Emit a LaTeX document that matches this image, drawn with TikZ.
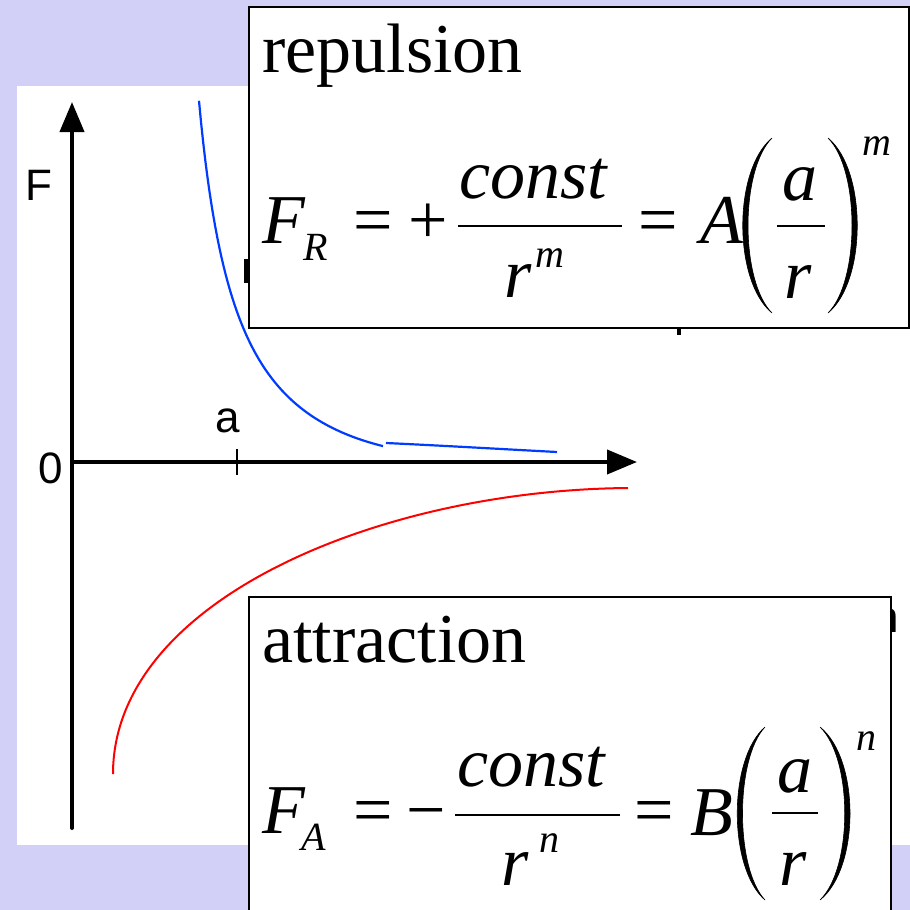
\documentclass[tikz,border=0pt]{standalone}
\usepackage{fontspec}
\IfFontExistsTF{LiberationSerif-Regular.ttf}{%
  \newfontfamily\serf{LiberationSerif}[Extension=.ttf,UprightFont=*-Regular,ItalicFont=*-Italic,BoldFont=*-Bold]}{%
  \newfontfamily\serf{Liberation Serif}}
\newfontfamily\sansf{Liberation Sans}
\usetikzlibrary{arrows.meta}
\definecolor{lav}{RGB}{211,208,248}
\definecolor{cblue}{RGB}{0,60,255}
\begin{document}
\begin{tikzpicture}[x=1pt,y=-1pt,
  lbl/.style={font=\sansf\fontsize{44}{44}\selectfont,inner sep=0pt,anchor=base west},
  big/.style={font=\serf\fontsize{70}{70}\selectfont,inner sep=0pt,anchor=base west},
  bigit/.style={font=\serf\fontsize{70}{70}\selectfont\itshape,inner sep=0pt,anchor=base west},
  smit/.style={font=\serf\fontsize{40}{40}\selectfont\itshape,inner sep=0pt,anchor=base west},
  axis/.style={line width=4pt,line cap=round,-{Triangle[length=30pt,width=24pt]}},
  box/.style={draw=black,line width=2pt,fill=white,inner sep=0pt,anchor=north west},
  bar/.style={line width=2.5pt},
  paren/.style={fill=black,draw=black,line width=0.6pt}]
\useasboundingbox (0,0) rectangle (910,910);
\fill[lav] (0,0) rectangle (910,910);
\fill[white] (17,86) rectangle (910,845);
% axes
\coordinate (O) at (72,462);
\coordinate (ytop) at (72,102);
\coordinate (ybot) at (72,828);
\coordinate (xend) at (637,462);
\draw[axis] (ybot) -- (ytop);
\draw[axis] (O) -- (xend);
\coordinate (ta) at (237,449);
\coordinate (tb) at (237,475);
\draw[line width=2pt] (ta) -- (tb);
\node[lbl] (Flab) at (25,200) {F};
\node[lbl] (zero) at (38,483) {0};
\node[lbl] (alab) at (215,432) {a};
% curves
\draw[cblue,line width=2.2pt] plot[domain=199:383,samples=90,smooth] (\x,{529-167*(100/(\x-160))-8*((\x-199)/184)^2});
\draw[cblue,line width=2.2pt] (386,443) .. controls (450,446) and (500,449) .. (557,452);
\coordinate (rs) at (113,774);
\coordinate (re) at (628,488);
\draw[red,line width=2pt] (rs) .. controls (113,600) and (380,490) .. (re);
% hidden fragments
\fill[black] (244,259) rectangle (249,283);
\fill[black] (677,327) rectangle (681,335);
\node[lbl] (nfrag) at (874,632) {n};
% boxes
\node[box,minimum width=660pt,minimum height=321pt] (rep) at (248,6) {};
\node[box,minimum width=642pt,minimum height=330pt] (att) at (248,596) {};
% repulsion
\node[big] (rt) at (262,72) {repulsion};
\node[bigit] (FR) at (262,243) {F};
\node[smit] (R) at (303,260) {R};
\node[big] (eq1) at (353,243) {=};
\node[big] (plus) at (408,243) {+};
\draw[bar] (458,226) -- (622,226);
\node[bigit] (c1) at (459,198) {const};
\node[bigit] (r1) at (504,297) {r};
\node[smit] (m1) at (535,267) {m};
\node[big] (eq2) at (638,243) {=};
\node[bigit] (A) at (700,243) {A};
\fill[paren] (772,138) .. controls (733,170) and (733,281) .. (772,313) .. controls (740,281) and (740,170) .. (772,138) -- cycle;
\fill[paren] (828,138) .. controls (867,170) and (867,281) .. (828,313) .. controls (860,281) and (860,170) .. (828,138) -- cycle;
\node[bigit] (a1) at (782,200) {a};
\draw[bar] (777,226) -- (825,226);
\node[bigit] (r2) at (784,298) {r};
\node[smit] (m2) at (862,155) {m};
% attraction
\node[big] (at) at (262,662) {attraction};
\node[bigit] (FA) at (262,833) {F};
\node[smit] (Asub) at (301,850) {A};
\node[big] (eq3) at (353,833) {=};
\node[big] (minus) at (406,833) {−};
\draw[bar] (455,815) -- (620,815);
\node[bigit] (c2) at (457,786) {const};
\node[bigit] (r3) at (501,885) {r};
\node[smit] (n1) at (539,852) {n};
\node[big] (eq4) at (634,833) {=};
\node[bigit] (B) at (690,835) {B};
\fill[paren] (765,727) .. controls (728,759) and (728,868) .. (765,900) .. controls (735,868) and (735,759) .. (765,727) -- cycle;
\fill[paren] (820,727) .. controls (860,759) and (860,868) .. (820,900) .. controls (853,868) and (853,759) .. (820,727) -- cycle;
\node[bigit] (a2) at (777,792) {a};
\draw[bar] (772,813) -- (818,813);
\node[bigit] (r4) at (779,885) {r};
\node[smit] (n2) at (856,750) {n};
\end{tikzpicture}
\end{document}
